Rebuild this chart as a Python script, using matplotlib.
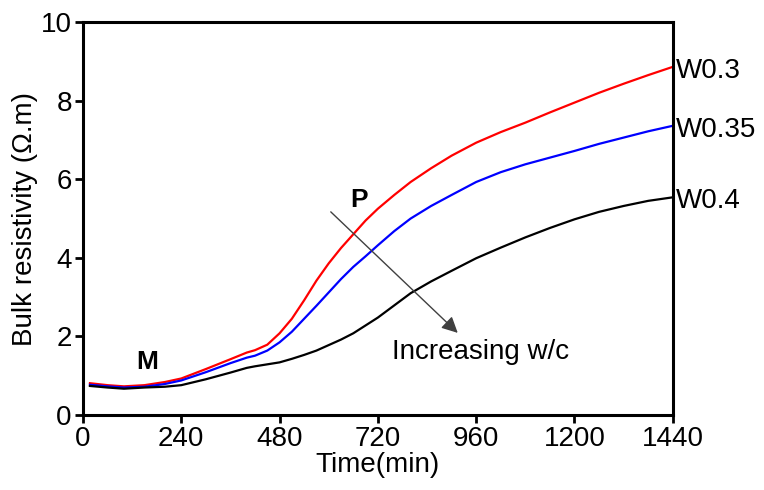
import numpy as np
import matplotlib
matplotlib.use('Agg')
import matplotlib.pyplot as plt

plt.rcParams['font.family'] = ['Liberation Sans', 'DejaVu Sans']

# time in minutes
time = [17, 60, 100, 150, 200, 240, 300, 360, 400, 420, 450, 480, 510, 540,
        570, 600, 630, 660, 690, 720, 760, 800, 850, 900, 960, 1020, 1080,
        1140, 1200, 1260, 1320, 1380, 1440]

w030 = [0.81, 0.76, 0.73, 0.76, 0.84, 0.93, 1.17, 1.42, 1.59, 1.65, 1.79, 2.08,
        2.45, 2.92, 3.42, 3.86, 4.25, 4.60, 4.95, 5.25, 5.60, 5.93, 6.28, 6.60,
        6.93, 7.20, 7.44, 7.70, 7.95, 8.20, 8.43, 8.65, 8.86]

w035 = [0.77, 0.73, 0.70, 0.72, 0.79, 0.88, 1.09, 1.32, 1.46, 1.51, 1.64, 1.85,
        2.12, 2.45, 2.78, 3.12, 3.46, 3.77, 4.04, 4.32, 4.68, 5.00, 5.32, 5.60,
        5.93, 6.18, 6.38, 6.55, 6.72, 6.90, 7.06, 7.22, 7.36]

w040 = [0.74, 0.70, 0.67, 0.70, 0.72, 0.76, 0.91, 1.08, 1.20, 1.24, 1.29, 1.34,
        1.43, 1.53, 1.64, 1.78, 1.92, 2.08, 2.28, 2.48, 2.79, 3.10, 3.40, 3.67,
        3.99, 4.26, 4.52, 4.76, 4.98, 5.17, 5.32, 5.45, 5.54]

series = [('W0.3', w030, '#ff0000'),
          ('W0.35', w035, '#0000ff'),
          ('W0.4', w040, '#000000')]

xticks = [0, 240, 480, 720, 960, 1200, 1440]
yticks = [0, 2, 4, 6, 8, 10]

fs = 20

fig = plt.figure(figsize=(7.64, 4.90), dpi=100)
ax = fig.add_axes([0.1086, 0.153, 0.772, 0.802])

for label, vals, color in series:
    ax.plot(time, vals, color=color, lw=1.6, solid_joinstyle='round')
    ax.annotate(label, xy=(time[-1], vals[-1]), xytext=(2, -3),
                textcoords='offset points', va='center', ha='left',
                fontsize=fs, annotation_clip=False)

ax.set_xlim(0, 1440)
ax.set_ylim(0, 10)
ax.set_xticks(xticks)
ax.set_yticks(yticks)
ax.tick_params(direction='out', length=6, width=2, labelsize=fs, pad=2)
for sp in ax.spines.values():
    sp.set_linewidth(2.2)

ax.set_xlabel('Time(min)', fontsize=fs, labelpad=0)
ax.set_ylabel('Bulk resistivity (\u03a9.m)', fontsize=fs, labelpad=2)

ax.text(156, 1.35, 'M', fontsize=19, fontweight='bold', ha='center', va='center')
ax.text(674, 5.47, 'P', fontsize=19, fontweight='bold', ha='center', va='center')
ax.annotate('', xy=(915, 2.09), xytext=(605, 5.17),
            arrowprops=dict(arrowstyle='-|>', color='#404040', lw=1.0,
                            mutation_scale=24, shrinkA=0, shrinkB=0))
ax.text(754, 1.60, 'Increasing w/c', fontsize=fs, ha='left', va='center')

fig.savefig('out.png', dpi=100)
